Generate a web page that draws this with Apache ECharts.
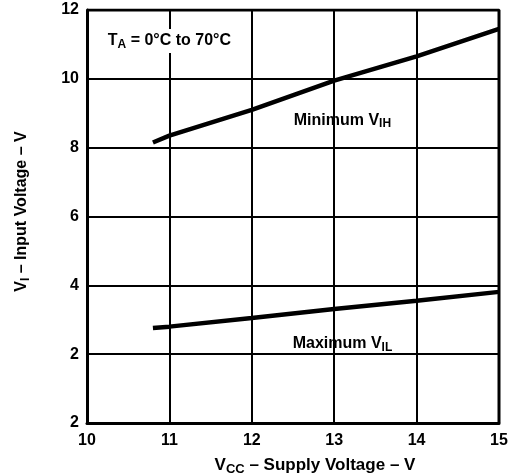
<!DOCTYPE html>
<html>
<head>
<meta charset="utf-8">
<script src="https://cdn.jsdelivr.net/npm/echarts@6/dist/echarts.min.js"></script>
<style>
  html, body { margin: 0; padding: 0; background: #fff; }
  #chart { width: 513px; height: 476px; }
</style>
</head>
<body>
<div id="chart"></div>
<script>
// values
const vcc = [10.8, 11, 12, 13, 14, 15];
const minVih = [8.15, 8.35, 9.1, 9.95, 10.65, 11.45];
const maxVil = [2.76, 2.8, 3.05, 3.31, 3.55, 3.81];
const yTickLabels = ['2', '2', '4', '6', '8', '10', '12'];

const font = '"Liberation Sans", Arial, sans-serif';

function richFor(size) {
	return {
		m: { fontSize: size, fontWeight: 'bold', fontFamily: font, color: '#000' },
		s: { fontSize: Math.round(size * 0.75), fontWeight: 'bold', fontFamily: font, color: '#000', padding: [Math.round(size * 0.5), 0, 0, 0] }
	};
}

const chart = echarts.init(document.getElementById('chart'));

function note(x, y, text, size, bg) {
	return {
		coord: [x, y],
		symbol: 'circle',
		symbolSize: 1,
		itemStyle: { color: 'rgba(0,0,0,0)' },
		label: {
			show: true,
			position: 'inside',
			formatter: text,
			backgroundColor: bg || 'transparent',
			padding: [2, 4],
			rich: richFor(size)
		}
	};
}

chart.setOption({
	animation: false,
	grid: { left: 87, right: 14, top: 10, bottom: 53, show: false, outerBoundsMode: 'none', containLabel: false },
	xAxis: {
		type: 'value',
		min: 10,
		max: 15,
		interval: 1,
		name: '{m|V}{s|CC}{m| – Supply Voltage – V}',
		nameLocation: 'middle',
		nameGap: 31,
		nameTextStyle: { rich: richFor(17), padding: [0, 0, 0, 44] },
		axisLine: { lineStyle: { color: '#000', width: 3 } },
		axisTick: { show: false },
		axisLabel: { color: '#000', fontSize: 16, fontWeight: 'bold', fontFamily: font, margin: 10 },
		splitLine: { lineStyle: { color: '#000', width: 2 } }
	},
	yAxis: {
		type: 'value',
		min: 0,
		max: 12,
		interval: 2,
		name: '{m|V}{s|I}{m| – Input Voltage – V}',
		nameLocation: 'middle',
		nameGap: 55,
		nameTextStyle: { rich: richFor(16), padding: [0, 0, 0, 10] },
		axisLine: { show: true, lineStyle: { color: '#000', width: 3 } },
		axisTick: { show: false },
		axisLabel: {
			color: '#000', fontSize: 16, fontWeight: 'bold', fontFamily: font, margin: 8,
			formatter: v => yTickLabels[v / 2]
		},
		splitLine: { lineStyle: { color: '#000', width: 2 } }
	},
	series: [
		{
			type: 'line',
			data: vcc.map((x, i) => [x, minVih[i]]),
			symbol: 'none',
			lineStyle: { color: '#000', width: 4.5 },
			markPoint: {
				data: [
					note(13.1, 8.8, '{m|Minimum V}{s|IH}', 16),
					note(11.0, 11.1, '{m|T}{s|A}{m| = 0°C to 70°C}', 16, '#fff')
				]
			}
		},
		{
			type: 'line',
			data: vcc.map((x, i) => [x, maxVil[i]]),
			symbol: 'none',
			lineStyle: { color: '#000', width: 4.5 },
			markPoint: {
				data: [note(13.1, 2.3, '{m|Maximum V}{s|IL}', 16)]
			}
		},
		{
			// closes the frame on the top and right
			type: 'line',
			data: [[10, 12], [15, 12], [15, 0]],
			symbol: 'none',
			silent: true,
			lineStyle: { color: '#000', width: 3 }
		}
	]
});
</script>
</body>
</html>
